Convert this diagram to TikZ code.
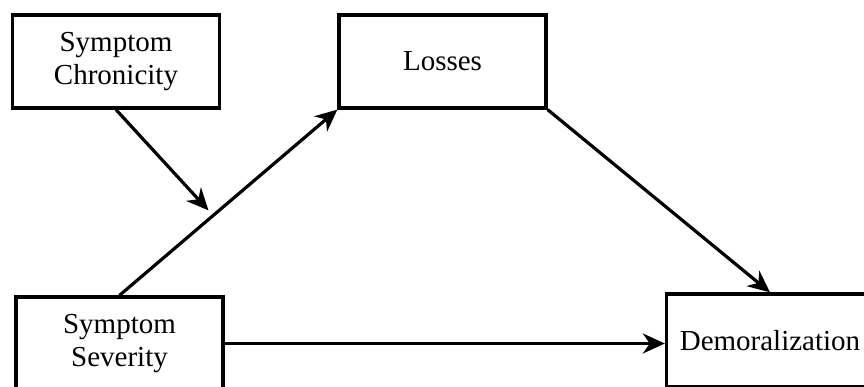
\documentclass[tikz,border=0pt]{standalone}
\usepackage{fontspec}
\setmainfont{Liberation Serif}
\usepackage{tikz}
\usetikzlibrary{calc}
\usetikzlibrary{arrows.meta}
\usetikzlibrary{positioning}

\tikzset{
    varbox/.style={draw, line width=3.3pt, minimum width=207pt, minimum height=93pt,
                   align=center, inner sep=0pt, font=\fontsize{29}{33}\selectfont},
    path/.style={line width=3.2pt, -{Stealth[length=22pt, width=20pt, inset=7pt]}}
}

\begin{document}
\begin{tikzpicture}[x=1pt, y=1pt]
            % Frame to ensure alignment:
            \useasboundingbox                                                 (0, 0) rectangle (864, 386);
            % Variables
            \node[varbox] (chron) at (116.0, 324.5) {Symptom\\Chronicity};
            \node[varbox] (loss)  at (442.5, 324.5) {Losses};
            \node[varbox] (sev)   at (119.5,  42.5) {Symptom\\Severity};
            \node[varbox] (demor) at (770.0,  45.5) {Demoralization};
            % Paths
            \coordinate (meet) at ($(sev.north)!0.43!(loss.south west)$);
            \draw[path] (sev.north)       -- (loss.south west);
            \draw[path] (loss.south east) -- (demor.north);
            \draw[path] (sev.east)        -- (sev.east -| demor.west);
            % Moderator
            \draw[path, shorten >=7pt] (chron.south) -- (meet);
        \end{tikzpicture}
\end{document}
